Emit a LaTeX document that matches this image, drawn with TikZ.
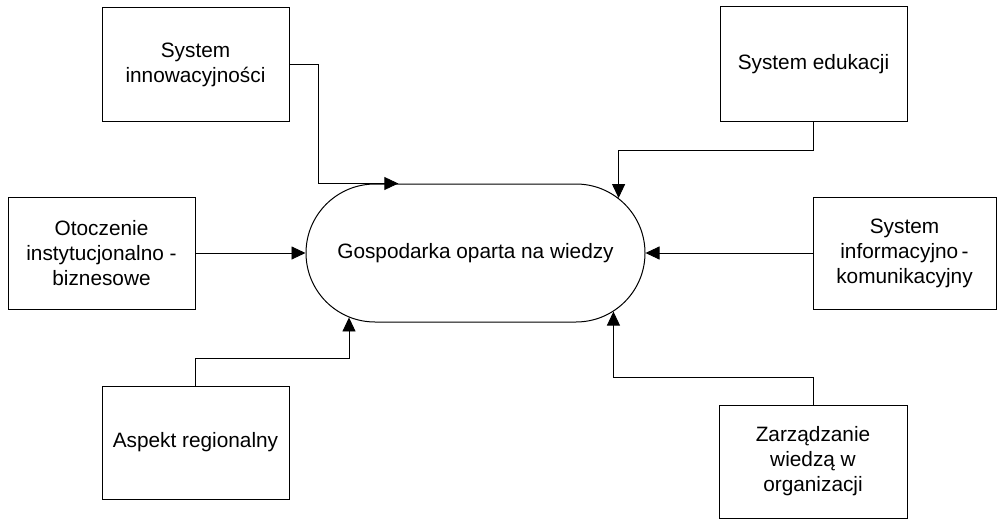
\documentclass[tikz,border=0pt]{standalone}
\usepackage{fontspec}
\setmainfont{Liberation Sans}
\usetikzlibrary{arrows.meta,shapes.misc}
\begin{document}
\begin{tikzpicture}[x=1pt,y=-1pt,
  every node/.style={font=\fontsize{20.8}{25}\selectfont, align=center, inner sep=0pt, line width=1pt},
  boxnode/.style={draw, rectangle, minimum width=#1},
  boxnode/.default=187pt,
  arr/.style={line width=0.9pt, -{Triangle[length=14pt,width=13pt]}}]
\useasboundingbox (0,0) rectangle (998,519);
\node[rounded rectangle, draw, minimum width=339pt, minimum height=138pt] (gow) at (475.5,253) {Gospodarka oparta na wiedzy};
\node[boxnode, minimum height=113pt] (innow) at (195.5,64.5) {System\\innowacyjności};
\node[boxnode, minimum height=114pt] (eduk) at (813.5,64) {System edukacji};
\node[boxnode, minimum height=112pt] (otocz) at (101.5,253) {Otoczenie\\instytucjonalno -\\biznesowe};
\node[boxnode=183pt, minimum height=112pt] (info) at (904.5,253) {System\\informacyjno\,-\\komunikacyjny};
\node[boxnode, minimum height=113pt] (aspekt) at (195.5,442.5) {Aspekt regionalny};
\node[boxnode=188pt, minimum height=113pt] (zarz) at (813,461.5) {Zarządzanie\\wiedzą w\\organizacji};
\draw[arr] (innow.east) -| (gow.138.69 -| 318,0) -- (gow.138.69);
\draw[arr] (eduk.south) |- (gow.21.73 |- 0,150) -- (gow.21.73);
\draw[arr] (otocz.east) -- (gow.west);
\draw[arr] (info.west) -- (gow.east);
\draw[arr] (aspekt.north) |- (gow.207.76 |- 0,358) -- (gow.207.76);
\draw[arr] (zarz.north) |- (gow.337.42 |- 0,377) -- (gow.337.42);
\end{tikzpicture}
\end{document}
